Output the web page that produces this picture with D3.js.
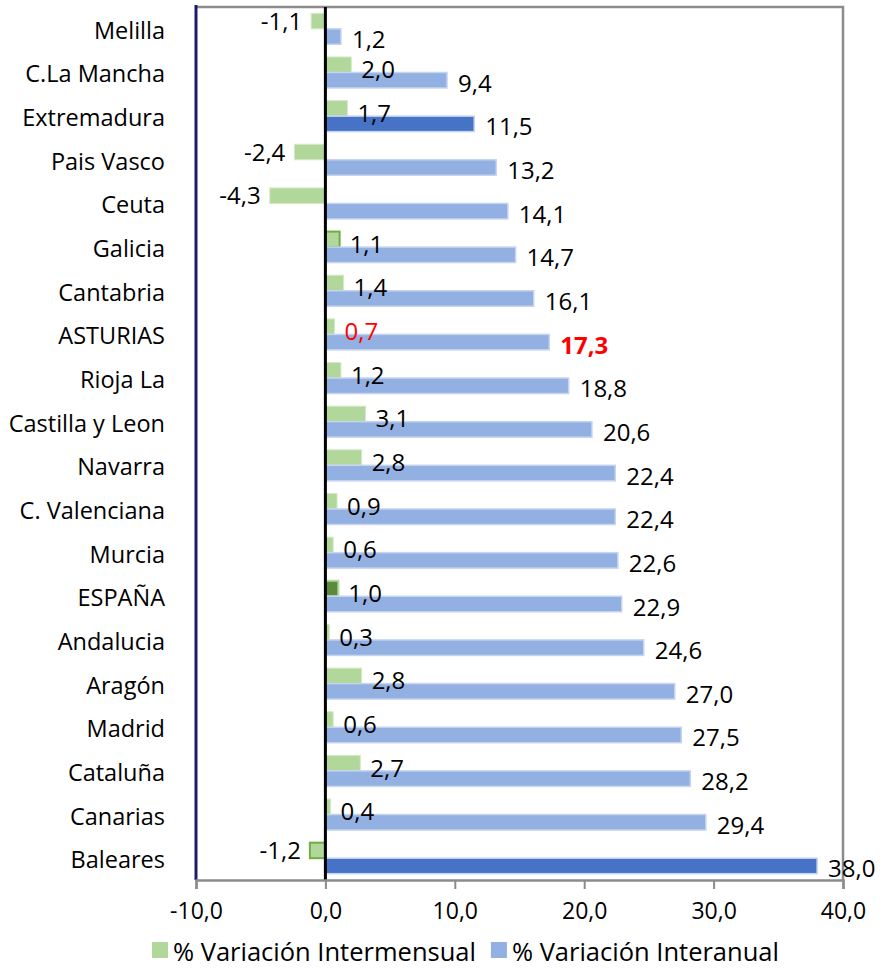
<!DOCTYPE html>
<html>
<head>
<meta charset="utf-8">
<script src="https://cdn.jsdelivr.net/npm/d3@7"></script>
<style>
  body { margin: 0; background: #fff; }
  svg text { font-family: "Open Sans", sans-serif; fill: #000; }
</style>
</head>
<body>
<svg id="chart"></svg>
<script>
// regions, top to bottom as in the picture
const regions = ["Melilla", "C.La Mancha", "Extremadura", "Pais Vasco", "Ceuta", "Galicia",
  "Cantabria", "ASTURIAS", "Rioja La", "Castilla y Leon", "Navarra", "C. Valenciana",
  "Murcia", "ESPAÑA", "Andalucia", "Aragón", "Madrid", "Cataluña", "Canarias", "Baleares"];

const intermensual = [-1.1, 2.0, 1.7, -2.4, -4.3, 1.1, 1.4, 0.7, 1.2, 3.1, 2.8, 0.9,
  0.6, 1.0, 0.3, 2.8, 0.6, 2.7, 0.4, -1.2];

const interanual = [1.2, 9.4, 11.5, 13.2, 14.1, 14.7, 16.1, 17.3, 18.8, 20.6, 22.4, 22.4,
  22.6, 22.9, 24.6, 27.0, 27.5, 28.2, 29.4, 38.0];

const xTicks = [-10, 0, 10, 20, 30, 40];
const seriesNames = ["% Variación Intermensual", "% Variación Interanual"];

const width = 885, height = 970;
const margin = { top: 7, right: 42, bottom: 90, left: 196 };

const green = "#b1d79b", blue = "#93b0e2";
const darkBlue = "#4673c6", darkGreen = "#5b8a3c", edgeGreen = "#6fae45";

const rows = regions.map((r, i) => ({ region: r, a: intermensual[i], b: interanual[i] }));

const svg = d3.select("#chart").attr("width", width).attr("height", height);

const x = d3.scaleLinear().domain([-10, 40]).range([margin.left, width - margin.right]);
const y = d3.scaleBand().domain(regions)
  .range([margin.top, height - margin.bottom])
  .paddingInner(0.29).paddingOuter(0.145);
const ySub = d3.scaleBand().domain(["a", "b"]).range([0, y.bandwidth()]);

// spanish decimal comma, plain hyphen for negatives
const fmt = v => d3.format(".1f")(v).replace(".", ",").replace("\u2212", "-");

// plot frame
const plotTop = margin.top, plotBottom = height - margin.bottom;
svg.append("path")
  .attr("d", `M${x(-10)},${plotTop}H${x(40)}V${plotBottom}`)
  .attr("fill", "none").attr("stroke", "#8c8c8c").attr("stroke-width", 2.5);

// bars
const g = svg.append("g");

g.selectAll("rect.inter")
  .data(rows).join("rect")
  .attr("class", "inter")
  .attr("x", d => x(Math.min(0, d.a)))
  .attr("y", d => y(d.region) + ySub("a"))
  .attr("width", d => Math.abs(x(d.a) - x(0)))
  .attr("height", ySub.bandwidth())
  .attr("fill", d => d.region === "ESPAÑA" ? darkGreen : green)
  .attr("stroke", d => d.region === "Galicia" || d.region === "Baleares" ? edgeGreen
    : d.region === "ESPAÑA" ? green : "#d4eac6")
  .attr("stroke-width", d => d.region === "Galicia" || d.region === "Baleares" || d.region === "ESPAÑA" ? 2 : 1);

g.selectAll("rect.anual")
  .data(rows).join("rect")
  .attr("class", "anual")
  .attr("x", x(0))
  .attr("y", d => y(d.region) + ySub("b"))
  .attr("width", d => x(d.b) - x(0))
  .attr("height", ySub.bandwidth())
  .attr("fill", d => d.region === "Extremadura" || d.region === "Baleares" ? darkBlue : blue)
  .attr("stroke", "#c5d4f0").attr("stroke-width", 1.5);

// left border and zero line
svg.append("line")
  .attr("x1", x(-10)).attr("x2", x(-10)).attr("y1", plotTop - 2).attr("y2", plotBottom)
  .attr("stroke", "#1c1c6e").attr("stroke-width", 3);
svg.append("line")
  .attr("x1", x(0)).attr("x2", x(0)).attr("y1", plotTop).attr("y2", plotBottom)
  .attr("stroke", "#000").attr("stroke-width", 3);

// value labels
const labelSize = 24, catSize = 23.5, tickSize = 23, legendSize = 25.5;
g.selectAll("text.la")
  .data(rows).join("text")
  .attr("class", "la")
  .attr("x", d => d.a < 0 ? x(d.a) - 9 : x(d.a) + 10)
  .attr("y", d => y(d.region) + ySub("a") + ySub.bandwidth() / 2 + (d.a < 0 ? -1 : 4))
  .attr("dominant-baseline", "central")
  .attr("text-anchor", d => d.a < 0 ? "end" : "start")
  .style("font-size", labelSize + "px")
  .style("fill", d => d.region === "ASTURIAS" ? "#ff0000" : "#000")
  .text(d => fmt(d.a));

g.selectAll("text.lb")
  .data(rows).join("text")
  .attr("class", "lb")
  .attr("x", d => x(d.b) + 11)
  .attr("y", d => y(d.region) + ySub("b") + ySub.bandwidth() / 2 + 2)
  .attr("dominant-baseline", "central")
  .style("font-size", labelSize + "px")
  .style("font-weight", d => d.region === "ASTURIAS" ? "bold" : "normal")
  .style("fill", d => d.region === "ASTURIAS" ? "#ff0000" : "#000")
  .text(d => fmt(d.b));

// category labels
svg.append("g").selectAll("text")
  .data(regions).join("text")
  .attr("x", margin.left - 31)
  .attr("y", d => y(d) + y.bandwidth() / 2 + 1)
  .attr("text-anchor", "end")
  .attr("dominant-baseline", "central")
  .style("font-size", catSize + "px")
  .text(d => d);

// x axis
const xAxis = svg.append("g")
  .attr("transform", `translate(0,${plotBottom})`)
  .call(d3.axisBottom(x).tickValues(xTicks).tickFormat(fmt).tickSize(9).tickPadding(14));
xAxis.select(".domain").attr("stroke", "#8c8c8c").attr("stroke-width", 2.5);
xAxis.selectAll(".tick line").attr("stroke", "#8c8c8c").attr("stroke-width", 2);
xAxis.selectAll(".tick text")
  .style("font-family", "'Open Sans', sans-serif")
  .style("font-size", tickSize + "px")
  .attr("fill", "#000");

// legend
const legend = svg.append("g").attr("transform", `translate(152, 950)`);
let lx = 0;
seriesNames.forEach((name, i) => {
  const item = legend.append("g").attr("transform", `translate(${lx},0)`);
  item.append("rect").attr("x", 0).attr("y", -8).attr("width", 16).attr("height", 16)
    .attr("fill", i === 0 ? green : blue);
  const t = item.append("text").attr("x", 21).attr("y", 1)
    .attr("dominant-baseline", "central")
    .style("font-size", legendSize + "px")
    .text(name);
  lx += 21 + t.node().getComputedTextLength() + 15;
});
</script>
</body>
</html>
